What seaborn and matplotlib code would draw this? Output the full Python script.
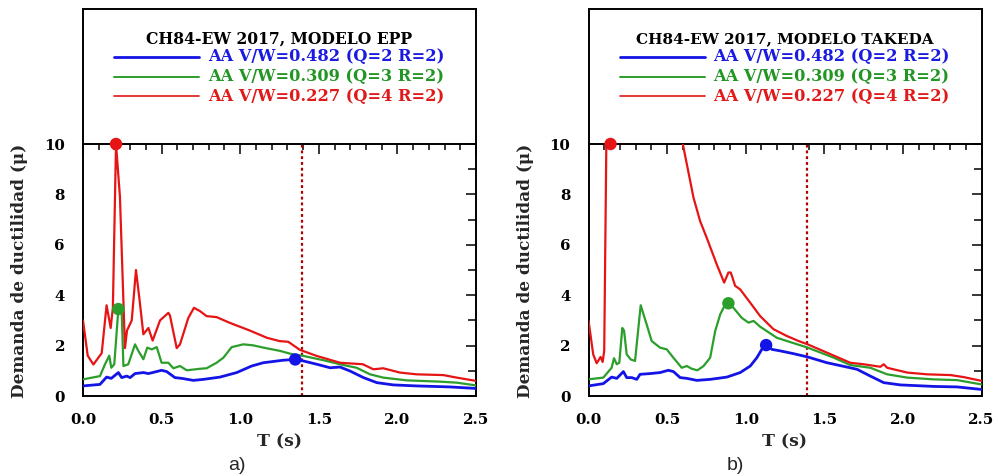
import numpy as np
import pandas as pd
import matplotlib
matplotlib.use("Agg")
import matplotlib.pyplot as plt
import seaborn as sns
from matplotlib.ticker import MultipleLocator, FormatStrFormatter
from matplotlib.lines import Line2D

# ---------------- data ----------------
panel_titles = ["CH84-EW 2017, MODELO EPP", "CH84-EW 2017, MODELO TAKEDA"]
series_labels = ["AA V/W=0.482 (Q=2 R=2)",
                 "AA V/W=0.309 (Q=3 R=2)",
                 "AA V/W=0.227 (Q=4 R=2)"]
panel_tags = ["a)", "b)"]
x_ticks = [0.0, 0.5, 1.0, 1.5, 2.0, 2.5]
y_ticks = [0, 2, 4, 6, 8, 10]
t_ref = 1.39

# EPP model
epp_blue_t = [0, 0.108, 0.15, 0.18, 0.225, 0.246, 0.278, 0.3, 0.331, 0.384, 0.416, 0.469, 0.5,
              0.532, 0.585, 0.628, 0.702, 0.766, 0.871, 0.978, 1.073, 1.147, 1.274, 1.35, 1.402,
              1.487, 1.572, 1.635, 1.699, 1.784, 1.869, 1.974, 2.122, 2.334, 2.5]
epp_blue_mu = [0.4, 0.46, 0.75, 0.7, 0.93, 0.73, 0.79, 0.73, 0.89, 0.93, 0.89, 0.97, 1.02,
               0.97, 0.73, 0.7, 0.62, 0.66, 0.75, 0.93, 1.19, 1.32, 1.42, 1.45, 1.39,
               1.26, 1.12, 1.15, 0.99, 0.73, 0.53, 0.44, 0.4, 0.36, 0.3]
epp_green_t = [0, 0.108, 0.14, 0.167, 0.18, 0.199, 0.225, 0.246, 0.257, 0.288, 0.331, 0.352,
               0.384, 0.409, 0.437, 0.469, 0.5, 0.543, 0.575, 0.617, 0.66, 0.744, 0.786, 0.85,
               0.893, 0.946, 1.02, 1.083, 1.147, 1.253, 1.317, 1.402, 1.529, 1.656, 1.741,
               1.826, 1.91, 2.06, 2.27, 2.377, 2.5]
epp_green_mu = [0.66, 0.79, 1.26, 1.6, 1.12, 1.26, 3.45, 3.37, 1.19, 1.26, 2.05, 1.79,
                1.46, 1.92, 1.85, 1.94, 1.32, 1.32, 1.1, 1.19, 1.02, 1.08, 1.1, 1.32,
                1.52, 1.94, 2.05, 2.01, 1.92, 1.79, 1.68, 1.59, 1.42, 1.23, 1.12,
                0.86, 0.73, 0.62, 0.57, 0.53, 0.42]
epp_red_t = [0, 0.03, 0.066, 0.119, 0.15, 0.176, 0.19, 0.21, 0.235, 0.267, 0.28, 0.31, 0.337,
             0.36, 0.384, 0.416, 0.443, 0.49, 0.543, 0.553, 0.596, 0.617, 0.67, 0.706, 0.744,
             0.786, 0.85, 0.935, 1.06, 1.17, 1.25, 1.306, 1.38, 1.487, 1.635, 1.78, 1.847,
             1.91, 2.016, 2.122, 2.292, 2.377, 2.5]
epp_red_mu = [3.0, 1.6, 1.25, 1.7, 3.6, 2.7, 3.5, 10.0, 7.9, 1.9, 2.6, 3.0, 5.0,
              3.8, 2.45, 2.7, 2.2, 3.0, 3.3, 3.2, 1.9, 2.05, 3.1, 3.5, 3.37,
              3.17, 3.13, 2.9, 2.6, 2.31, 2.18, 2.15, 1.83, 1.59, 1.32, 1.26, 1.06,
              1.1, 0.93, 0.86, 0.83, 0.73, 0.6]
epp_peak_t = [1.35, 0.225, 0.21]
epp_peak_mu = [1.45, 3.45, 10.0]

# Takeda model
tak_blue_t = [0, 0.094, 0.147, 0.18, 0.222, 0.243, 0.275, 0.307, 0.328, 0.392, 0.455, 0.508,
              0.54, 0.583, 0.625, 0.689, 0.774, 0.88, 0.965, 1.029, 1.071, 1.109, 1.13, 1.167,
              1.22, 1.304, 1.394, 1.517, 1.665, 1.708, 1.793, 1.878, 1.984, 2.196, 2.345, 2.5]
tak_blue_mu = [0.4, 0.49, 0.75, 0.7, 0.97, 0.73, 0.73, 0.66, 0.86, 0.89, 0.93, 1.02,
               0.97, 0.73, 0.7, 0.62, 0.66, 0.75, 0.93, 1.19, 1.52, 1.92, 2.02, 1.85,
               1.79, 1.68, 1.55, 1.32, 1.12, 1.06, 0.79, 0.53, 0.44, 0.38, 0.36, 0.26]
tak_green_t = [0, 0.094, 0.147, 0.162, 0.18, 0.196, 0.215, 0.226, 0.243, 0.269, 0.296, 0.332,
               0.37, 0.402, 0.455, 0.498, 0.54, 0.593, 0.625, 0.657, 0.693, 0.732, 0.774,
               0.806, 0.838, 0.87, 0.89, 0.922, 0.975, 1.018, 1.05, 1.092, 1.198, 1.394,
               1.56, 1.665, 1.793, 1.9, 2.027, 2.196, 2.345, 2.5]
tak_green_mu = [0.66, 0.73, 1.12, 1.5, 1.26, 1.32, 2.7, 2.6, 1.65, 1.45, 1.39, 3.6,
                2.84, 2.18, 1.92, 1.85, 1.52, 1.12, 1.19, 1.08, 1.02, 1.19, 1.52,
                2.58, 3.24, 3.64, 3.68, 3.5, 3.1, 2.91, 2.98, 2.75, 2.31, 1.92,
                1.52, 1.23, 1.12, 0.86, 0.73, 0.66, 0.63, 0.46]
tak_red_t = [0, 0.03, 0.052, 0.077, 0.09, 0.1, 0.12, 0.14, 0.3, 0.5, 0.6, 0.668, 0.71,
             0.752, 0.816, 0.863, 0.89, 0.905, 0.933, 0.965, 1.029, 1.092, 1.177, 1.262,
             1.337, 1.394, 1.517, 1.665, 1.75, 1.857, 1.878, 1.9, 2.027, 2.154, 2.303,
             2.387, 2.5]
tak_red_mu = [3.0, 1.65, 1.3, 1.55, 1.35, 1.8, 14.0, 15.0, 16.0, 12.5, 10.0, 7.87, 6.94,
              6.28, 5.22, 4.5, 4.9, 4.9, 4.37, 4.23, 3.7, 3.17, 2.65, 2.38,
              2.18, 2.05, 1.72, 1.32, 1.26, 1.16, 1.26, 1.12, 0.93, 0.86, 0.83,
              0.75, 0.6]
tak_peak_t = [1.13, 0.89, 0.14]
tak_peak_mu = [2.02, 3.68, 10.0]

# ---------------- style ----------------
sns.set_style("white")
plt.rcParams["font.family"] = ["DejaVu Serif"]
plt.rcParams["font.weight"] = "bold"

colors = ["#1414e6", "#2b9e2b", "#e61414"]
text_colors = ["#1a1ae0", "#229622", "#e01a1a"]
line_widths = [2.0, 1.6, 1.6]
legend_widths = [2.0, 1.4, 1.2]
DPI = 100
W, H = 998, 476

fig = plt.figure(figsize=(W / DPI, H / DPI), dpi=DPI)
fig.patch.set_facecolor("white")

panels = [
    (83.0, [(epp_blue_t, epp_blue_mu), (epp_green_t, epp_green_mu), (epp_red_t, epp_red_mu)],
     (epp_peak_t, epp_peak_mu), 266.0),
    (588.5, [(tak_blue_t, tak_blue_mu), (tak_green_t, tak_green_mu), (tak_red_t, tak_red_mu)],
     (tak_peak_t, tak_peak_mu), 297.0),
]
ax_w = 393.0
data_top, data_bot, leg_top = 144.0, 396.0, 9.0

fit_items = []  # (text, target px, rotated)

for k, (left_px, series, peaks, title_w) in enumerate(panels):
    ax = fig.add_axes([left_px / W, 1 - data_bot / H, ax_w / W, (data_bot - data_top) / H])
    axl = fig.add_axes([left_px / W, 1 - data_top / H, ax_w / W, (data_top - leg_top) / H])

    for i, (t, mu) in enumerate(series):
        df = pd.DataFrame({"T": t, "mu": mu})
        sns.lineplot(data=df, x="T", y="mu", ax=ax, color=colors[i],
                     linewidth=line_widths[i], estimator=None, sort=False, zorder=3)
    pk = pd.DataFrame({"T": peaks[0], "mu": peaks[1], "s": [0, 1, 2]})
    for i in range(3):
        sns.scatterplot(data=pk[pk["s"] == i], x="T", y="mu", ax=ax, color=colors[i],
                        s=80, edgecolor="none", zorder=5, legend=False)
    for coll in ax.collections:
        coll.set_clip_on(False)

    ax.axvline(t_ref, color="#b00000", linewidth=1.6, linestyle=(0, (1.3, 1.3)), zorder=2)

    ax.set_xlim(0, 2.5)
    ax.set_ylim(0, 10)
    ax.set_xticks(x_ticks)
    ax.set_yticks(y_ticks)
    ax.xaxis.set_major_formatter(FormatStrFormatter("%.1f"))
    ax.xaxis.set_minor_locator(MultipleLocator(0.1))
    ax.yaxis.set_minor_locator(MultipleLocator(1))
    ax.tick_params(which="both", direction="in", top=True, right=True, width=1.1,
                   color="black", labelsize=10.8, labelcolor="black")
    ax.tick_params(axis="x", which="major", length=7.5, pad=12)
    ax.tick_params(axis="x", which="minor", length=4.5)
    ax.tick_params(axis="y", which="major", length=7.0, pad=13)
    ax.tick_params(axis="y", which="minor", length=6.0)
    for lab in ax.get_xticklabels() + ax.get_yticklabels():
        lab.set_fontweight("bold")
    for sp in ax.spines.values():
        sp.set_linewidth(1.4)
        sp.set_color("black")

    ax.set_xlabel("T (s)", fontsize=11, fontweight="bold")
    ax.xaxis.set_label_coords(0.5, (data_bot - 442) / (data_bot - data_top))
    ax.xaxis.label.set_verticalalignment("center")
    ax.set_ylabel("Demanda de ductilidad (\u03bc)", fontsize=11, fontweight="bold")
    ax.yaxis.set_label_coords(-63.0 / ax_w, 0.496)
    ax.yaxis.label.set_verticalalignment("center")
    fit_items.append((ax.xaxis.label, 45.0, False))
    fit_items.append((ax.yaxis.label, 252.0, True))

    # legend box
    axl.set_xlim(0, 1)
    axl.set_ylim(0, 1)
    axl.set_xticks([])
    axl.set_yticks([])
    axl.patch.set_alpha(0)
    for name, sp in axl.spines.items():
        sp.set_linewidth(1.4)
        sp.set_color("black")
    axl.spines["bottom"].set_visible(False)
    hgt = data_top - leg_top
    tt = axl.text(0.5, (data_top - 39) / hgt, panel_titles[k], ha="center", va="center",
                  fontsize=11, fontweight="bold", color="black", transform=axl.transAxes)
    fit_items.append((tt, title_w, False))
    for i, ypx in enumerate([57.0, 76.7, 96.0]):
        yf = (data_top - ypx) / hgt
        axl.add_line(Line2D([31.0 / ax_w, 116.0 / ax_w], [yf, yf], color=colors[i],
                            linewidth=legend_widths[i], transform=axl.transAxes))
        te = axl.text(125.0 / ax_w, yf, series_labels[i], ha="left", va="center",
                      fontsize=11, fontweight="bold", color=text_colors[i],
                      transform=axl.transAxes)
        fit_items.append((te, 235.0, False))

for k, xc in enumerate([237.0, 735.0]):
    fig.text(xc / W, 1 - 465.0 / H, panel_tags[k], ha="center", va="center",
             fontsize=14, fontweight="normal", family=["Liberation Sans", "DejaVu Sans"])

# fit text sizes to measured extents
fig.canvas.draw()
r = fig.canvas.get_renderer()
for txt, target, rot in fit_items:
    bb = txt.get_window_extent(renderer=r)
    cur = bb.height if rot else bb.width
    txt.set_fontsize(txt.get_fontsize() * target / cur)

fig.savefig("out.png", dpi=DPI, facecolor="white")
